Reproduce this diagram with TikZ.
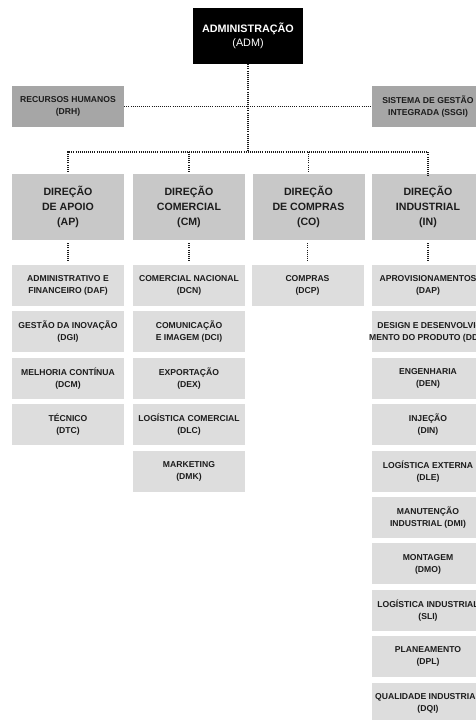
\documentclass[tikz,border=0pt]{standalone}
\usepackage{fontspec}
\setmainfont{Liberation Sans}
\definecolor{dirgray}{HTML}{C8C8C8}
\definecolor{sidegray}{HTML}{A6A6A6}
\definecolor{subgray}{HTML}{DDDDDD}
\definecolor{txt}{HTML}{1C1C1C}
\begin{document}
\begin{tikzpicture}[x=1pt,y=-1pt,
  box/.style={inner sep=0pt, align=center, text=txt,
    font=\bfseries\fontsize{8.6}{12}\selectfont,
    minimum width=112pt, minimum height=41pt},
  sub/.style={box, fill=subgray},
  side/.style={box, fill=sidegray},
  dir/.style={box, fill=dirgray, minimum height=66pt,
    font=\bfseries\fontsize{10.6}{15}\selectfont},
  adm/.style={inner sep=0pt, align=center, fill=black, text=white,
    minimum width=110pt, minimum height=56pt,
    font=\bfseries\fontsize{10.8}{14}\selectfont},
  link/.style={draw=txt, line width=1.1pt, dash pattern=on 1pt off 1.1pt}]
\useasboundingbox (0,0) rectangle (476,720);
\clip (0,0) rectangle (476,720);
\fill[white] (0,0) rectangle (476,720);

\node[adm] (adm) at (248,36) {ADMINISTRAÇÃO\\{\mdseries (ADM)}};
\node[side] (drh) at (68,106.5) {RECURSOS HUMANOS\\(DRH)};
\node[side] (ssgi) at (428,106.5) {SISTEMA DE GESTÃO\\INTEGRADA (SSGI)};
\coordinate (bus) at (248,152);

\node[dir] (ap) at (68,207) {DIREÇÃO\\DE APOIO\\(AP)};
\node[dir] (cm) at (189,207) {DIREÇÃO\\COMERCIAL\\(CM)};
\node[dir] (co) at (308.5,207) {DIREÇÃO\\DE COMPRAS\\(CO)};
\node[dir] (in) at (428,207) {DIREÇÃO\\INDUSTRIAL\\(IN)};

% AP column
\node[sub] (daf) at (68,285.5) {ADMINISTRATIVO E\\FINANCEIRO (DAF)};
\node[sub] (dgi) at (68,331.9) {GESTÃO DA INOVAÇÃO\\(DGI)};
\node[sub] (dcm) at (68,378.3) {MELHORIA CONTÍNUA\\(DCM)};
\node[sub] (dtc) at (68,424.7) {TÉCNICO\\(DTC)};
% CM column
\node[sub] (dcn) at (189,285.5) {COMERCIAL NACIONAL\\(DCN)};
\node[sub] (dci) at (189,331.9) {COMUNICAÇÃO\\E IMAGEM (DCI)};
\node[sub] (dex) at (189,378.3) {EXPORTAÇÃO\\(DEX)};
\node[sub] (dlc) at (189,424.7) {LOGÍSTICA COMERCIAL\\(DLC)};
\node[sub] (dmk) at (189,471.1) {MARKETING\\(DMK)};
% CO column
\node[sub] (dcp) at (307.5,285.5) {COMPRAS\\(DCP)};
% IN column
\node[sub] (dap) at (428,285.5) {APROVISIONAMENTOS\\(DAP)};
\node[sub] (ddp) at (428,331.9) {\makebox[100pt][c]{DESIGN E DESENVOLVI-}\\\makebox[100pt][c]{MENTO DO PRODUTO (DDP)}};
\node[sub] (den) at (428,378.3) {ENGENHARIA\\(DEN)};
\node[sub] (din) at (428,424.7) {INJEÇÃO\\(DIN)};
\node[sub] (dle) at (428,471.1) {LOGÍSTICA EXTERNA\\(DLE)};
\node[sub] (dmi) at (428,517.5) {MANUTENÇÃO\\INDUSTRIAL (DMI)};
\node[sub] (dmo) at (428,563.9) {MONTAGEM\\(DMO)};
\node[sub] (sli) at (428,610.3) {LOGÍSTICA INDUSTRIAL\\(SLI)};
\node[sub] (dpl) at (428,656.7) {PLANEAMENTO\\(DPL)};
\node[sub] (dqi) at (428,703.1) {QUALIDADE INDUSTRIAL\\(DQI)};

% connectors
\draw[link] (adm.south) -- (bus);
\draw[link] (drh.east) -- (ssgi.west);
\draw[link, shorten <=2pt] (ap.north) |- (bus) -| ([yshift=-2pt]in.north);
\draw[link, shorten <=2pt] (cm.north) -- (cm.north |- bus);
\draw[link, shorten <=2pt] (co.north) -- (co.north |- bus);
\draw[link, shorten <=3pt, shorten >=3pt] (ap.south) -- (daf.north);
\draw[link, shorten <=3pt, shorten >=3pt] (cm.south) -- (dcn.north);
\draw[link, shorten <=3pt, shorten >=3pt] (co.south -| dcp.north) -- (dcp.north);
\draw[link, shorten <=3pt, shorten >=3pt] (in.south) -- (dap.north);
\end{tikzpicture}
\end{document}
